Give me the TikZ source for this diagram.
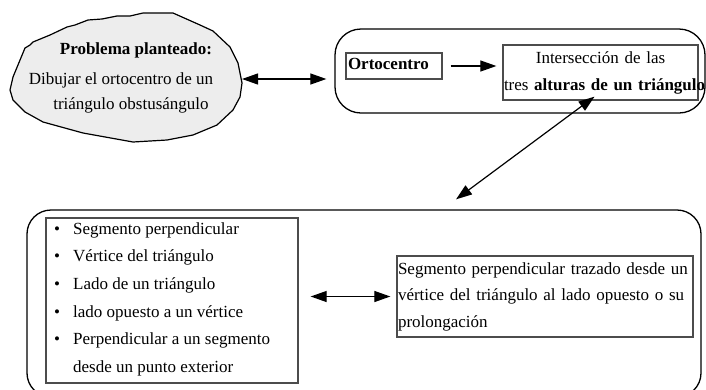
\documentclass[tikz,border=0pt]{standalone}
\usepackage{fontspec}
\setmainfont{Liberation Serif}
\usetikzlibrary{arrows.meta,calc}

\begin{document}
\begin{tikzpicture}[x=1pt,y=-1pt,
    >={Triangle[length=16pt,width=11pt]},
    txt/.style={font=\fontsize{17}{27}\selectfont, inner sep=0pt},
    frame/.style={draw=black!70, line width=1.3pt},
    bigbox/.style={draw=black, line width=1.3pt, rounded corners=26pt},
    onearrow/.style={->, line width=1.2pt},
    dblarrow/.style={<->, line width=1.2pt}]
  \useasboundingbox (0,0) rectangle (706,389);
  \clip (0,0) rectangle (706,389);

  % Draw problem cloud
  \filldraw[fill=black!7, line width=1.2pt]
    (30,45) -- (33,42) -- (50,35) -- (67,27) -- (75,25) -- (88,20) -- (102,19)
    -- (117,16) -- (130,16) -- (143,13) -- (173,13) -- (200,25) -- (213,31)
    -- (230,47) -- (238,63) -- (242,83) -- (240,97) -- (233,110) -- (217,125)
    -- (193,135) -- (167,140) -- (133,142) -- (83,133) -- (43,122) -- (25,112)
    -- (13,100) -- (10,90) -- (13,77) -- (25,48) -- cycle;
  \coordinate (cloudE) at (242,79);
  \node[txt, anchor=base] (prob) at (136,54) {\textbf{Problema planteado:}};
  \node[txt, anchor=base] (probA) at (121,84) {Dibujar el ortocentro de un};
  \node[txt, anchor=base] (probB) at (131,109) {triángulo obstusángulo};

  % Top group
  \node[bigbox, minimum width=370pt, minimum height=84pt] (top) at (520,71) {};
  \node[frame, txt, text width=92pt, align=left, inner xsep=2pt,
        minimum height=26pt, text depth=4pt] (orto) at (394,66) {\textbf{Ortocentro}};
  \node[frame, txt, text width=193pt, align=center, inner xsep=1pt,
        minimum height=55pt] (inter) at (600.5,72.5)
        {Intersección de las\\\mbox{tres \textbf{alturas de un triángulo}}};

  % Bottom group
  \node[bigbox, rounded corners=24pt, minimum width=674pt, minimum height=187pt] (cont) at (364,303.5) {};
  \node[frame, minimum width=252pt, minimum height=165pt] (list) at (172,300.5) {};
  \foreach \t [count=\i] in {Segmento perpendicular, Vértice del triángulo,
      Lado de un triángulo, lado opuesto a un vértice, Perpendicular a un segmento}
  {
    \node[txt, anchor=base] (bul\i) at (57,{206.3+27.7*\i}) {\textbullet};
    \node[txt, anchor=base west] (item\i) at (73,{206.3+27.7*\i}) {\t};
  }
  \node[txt, anchor=base west] (item6) at (73,372.5) {desde un punto exterior};
  \node[frame, txt, font=\fontsize{17}{26.5}\selectfont, text width=294pt, align=left,
        inner xsep=1pt, minimum height=81pt] (defn) at (545,296.5)
        {Segmento perpendicular trazado desde un\\vértice del triángulo al lado opuesto o su\\prolongación};

  % Draw connectors
  \draw[dblarrow, shorten >=8pt] (cloudE) -- (top.west |- cloudE);
  \draw[onearrow, shorten <=8pt, shorten >=6pt] (orto) -- (orto -| inter.west);
  \draw[dblarrow] ($(cont.north)+(92,-10)$) -- ($(inter.south)+(-6,-4)$);
  \draw[dblarrow, shorten <=12pt, shorten >=6pt] (list.east |- defn) -- (defn.west);
\end{tikzpicture}
\end{document}
